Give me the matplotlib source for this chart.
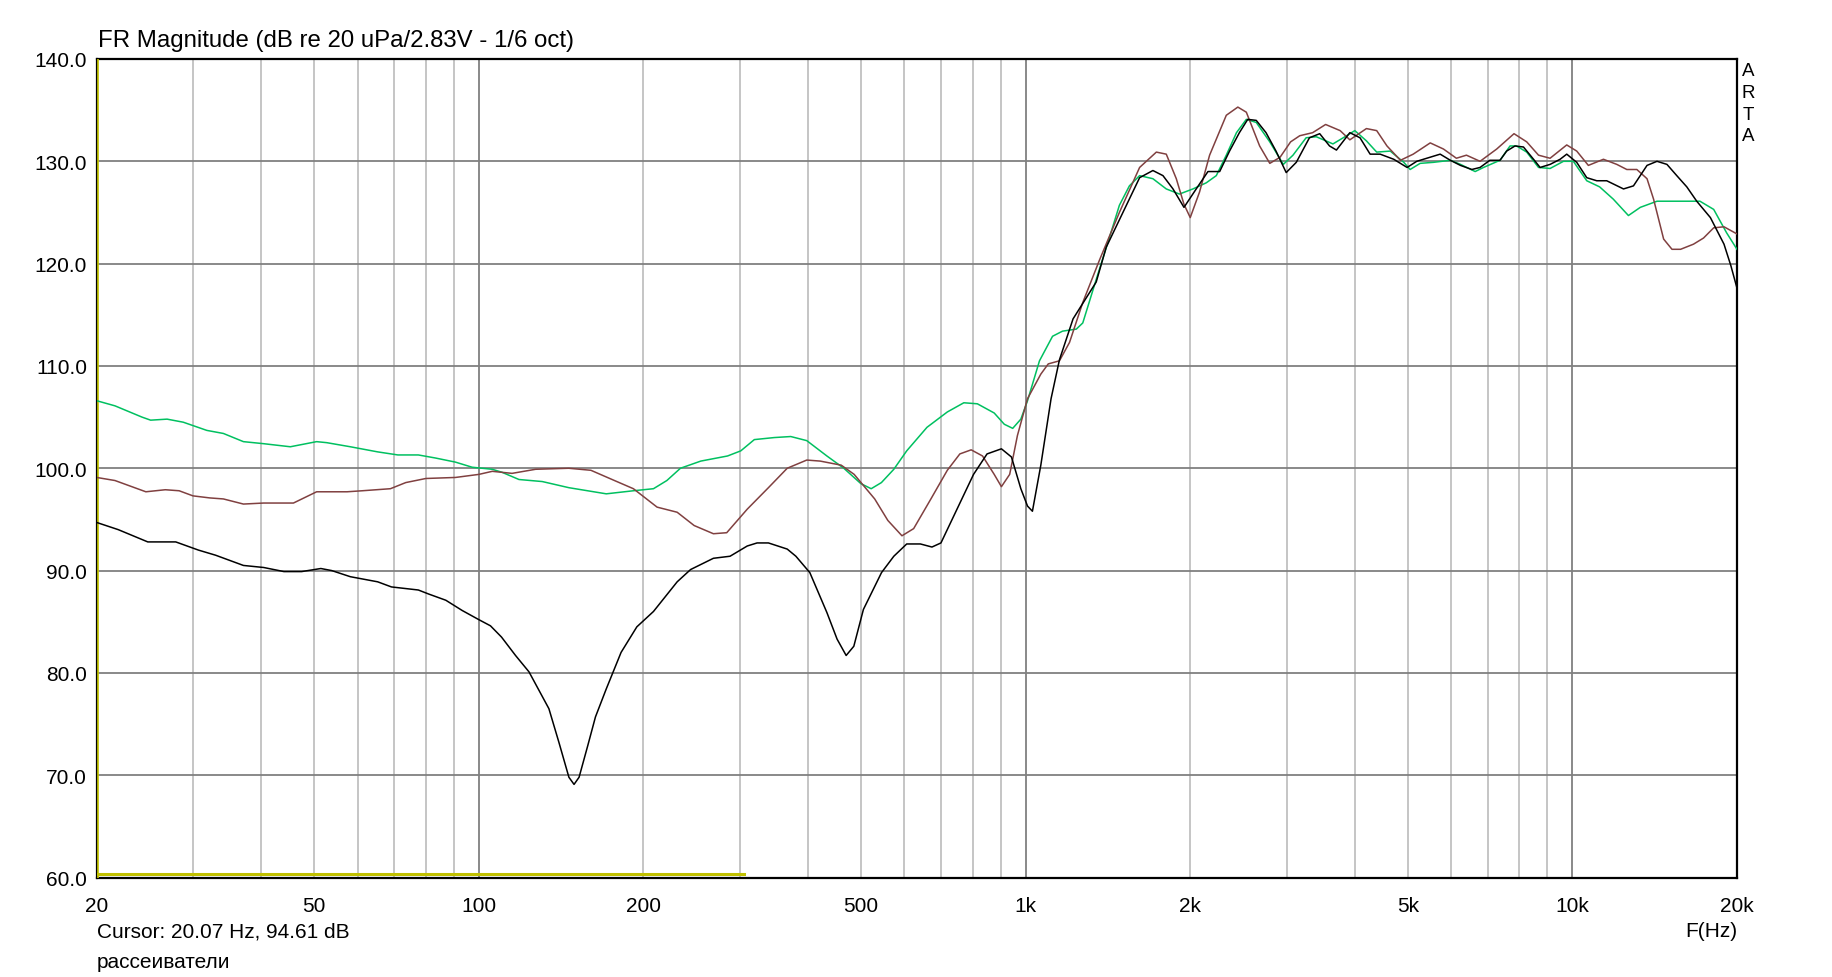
import matplotlib
matplotlib.use('Agg')
import matplotlib.pyplot as plt
from matplotlib.ticker import LogLocator, FuncFormatter

plt.rcParams['font.family'] = ['Liberation Sans', 'DejaVu Sans']

# ---- data (Hz, dB) ----
f_black = [20, 21.9, 24.8, 27.9, 30.7, 33, 37.1, 40.4, 44, 47.4, 51.4, 53.8, 58.2, 65.3, 69.2,
           77.5, 81, 87, 93.2, 100, 105, 110, 116.7, 123.5, 128.8, 134.3, 140.1, 146.1, 149.3,
           152.5, 158.2, 163.4, 170.9, 182, 194.5, 208.6, 230.5, 243.9, 268.5, 288, 309.6,
           322.7, 338.5, 366.4, 380, 403, 433, 452, 469.6, 485, 505, 545, 574, 606, 642, 674,
           700, 749, 803, 850, 903, 942, 980, 1008, 1029, 1066, 1113, 1153, 1221, 1346, 1404,
           1506, 1616, 1709, 1783, 1860, 1948, 2051, 2155, 2264, 2360, 2460, 2548, 2641, 2752,
           2870, 2996, 3126, 3304, 3450, 3596, 3702, 3917, 4088, 4266, 4450, 4712, 4985, 5192,
           5495, 5730, 5981, 6242, 6547, 6778, 7063, 7372, 7581, 7852, 8137, 8490, 8728, 9103,
           9496, 9764, 10184, 10623, 11079, 11555, 12401, 12932, 13692, 14280, 14890, 15520,
           16190, 16880, 17880, 18935, 19490, 20000]
db_black = [94.7, 94.0, 92.8, 92.8, 92.0, 91.5, 90.5, 90.3, 89.9, 89.9, 90.2, 90.0, 89.4, 88.9, 88.4,
            88.1, 87.7, 87.1, 86.1, 85.2, 84.6, 83.5, 81.7, 80.1, 78.3, 76.5, 73.2, 69.8, 69.1,
            69.8, 72.9, 75.7, 78.4, 82.0, 84.5, 86.0, 88.9, 90.1, 91.2, 91.4, 92.4,
            92.7, 92.7, 92.1, 91.4, 89.8, 85.9, 83.3, 81.7, 82.6, 86.2, 89.8, 91.4, 92.6, 92.6, 92.3,
            92.7, 96.0, 99.4, 101.4, 101.9, 101.1, 98.0, 96.3, 95.8, 100.3, 106.8, 110.6, 114.6, 118.2, 121.6,
            125.0, 128.4, 129.1, 128.6, 127.3, 125.5, 127.3, 129.0, 129.0, 131.0, 132.8, 134.1, 134.0, 132.8,
            131.0, 128.9, 129.9, 132.3, 132.7, 131.5, 131.1, 132.8, 132.3, 130.7, 130.7, 130.2, 129.4, 130.0,
            130.4, 130.7, 130.1, 129.6, 129.2, 129.4, 130.1, 130.1, 131.0, 131.5, 131.4, 130.2, 129.4, 129.7,
            130.2, 130.7, 129.9, 128.4, 128.1, 128.1, 127.3, 127.6, 129.6, 130.0, 129.7, 128.6,
            127.5, 126.1, 124.5, 121.9, 119.8, 117.6]

f_brown = [20, 21.6, 24.6, 26.7, 28.3, 30, 32.2, 34.1, 37.1, 40.4, 45.8, 50.5, 57.4, 61.2, 68.9,
           73.5, 80, 90.6, 100, 105.8, 115, 127, 146, 160.3, 177, 191.7, 211.8, 230.5, 247.6,
           268.5, 284, 309.6, 338.5, 366.4, 397.8, 421, 460, 485.7, 529.6, 559.7, 594, 624, 671,
           719, 758, 795, 834, 876, 903, 935, 966, 1008, 1066, 1100, 1153, 1203, 1272, 1366,
           1484, 1616, 1734, 1808, 1886, 1948, 2000, 2080, 2170, 2328, 2444, 2533, 2679, 2796,
           2920, 3052, 3172, 3349, 3537, 3760, 3917, 4200, 4386, 4580, 4847, 5115, 5495, 5810,
           6135, 6400, 6778, 7270, 7820, 8250, 8670, 9103, 9764, 10184, 10695, 11396, 12055,
           12575, 13117, 13692, 14075, 14684, 15210, 15770, 16650, 17370, 18130, 18935, 20000]
db_brown = [99.1, 98.8, 97.7, 97.9, 97.8, 97.3, 97.1, 97.0, 96.5, 96.6, 96.6, 97.7, 97.7, 97.8, 98.0,
            98.6, 99.0, 99.1, 99.4, 99.7, 99.5, 99.9, 100.0, 99.8, 98.8, 98.0, 96.2, 95.7, 94.4,
            93.6, 93.7, 96.0, 98.1, 100.0, 100.8, 100.7, 100.3, 99.4, 97.0, 94.9, 93.4, 94.1, 97.0,
            99.8, 101.4, 101.8, 101.2, 99.4, 98.2, 99.4, 103.2, 106.8, 109.2, 110.2, 110.5, 112.3, 116.2, 120.4,
            125.0, 129.4, 130.9, 130.7, 128.3, 125.8, 124.5, 127.0, 130.6, 134.5, 135.3, 134.8, 131.5, 129.8,
            130.4, 131.9, 132.5, 132.8, 133.6, 133.0, 132.1, 133.2, 133.0, 131.5, 130.1, 130.7, 131.8, 131.2,
            130.3, 130.6, 130.0, 131.2, 132.7, 131.9, 130.6, 130.3, 131.6, 131.0, 129.6, 130.2, 129.7,
            129.2, 129.2, 128.3, 126.3, 122.4, 121.4, 121.4, 121.9, 122.5, 123.5, 123.6, 122.9]

f_green = [20, 21.6, 24.2, 25.1, 26.9, 28.8, 31.8, 34.1, 37.1, 40.4, 45.2, 50.5, 52.7, 58.2, 65.3,
           71.1, 77.5, 83.3, 90.6, 97.2, 105.8, 110.3, 118.4, 130.6, 146.1, 171, 191.7, 208.6,
           220.7, 233.7, 254.6, 285, 301.3, 319, 347, 371.9, 397.8, 433, 465, 499.5, 521.8, 544.8,
           574, 606, 660, 719, 770.8, 816, 876, 914, 947, 980, 1008, 1060, 1120, 1168, 1238, 1272,
           1347, 1426, 1484, 1548, 1616, 1709, 1808, 1911, 2023, 2140, 2232, 2328, 2430, 2533,
           2641, 2796, 2960, 3083, 3258, 3401, 3648, 3864, 4000, 4200, 4386, 4644, 4916, 5049,
           5267, 5570, 5981, 6242, 6640, 6877, 7372, 7690, 7905, 8250, 8670, 9103, 9630, 10040,
           10623, 11216, 11880, 12660, 13310, 14280, 15960, 17110, 18130, 19150, 20000]
db_green = [106.6, 106.1, 105.0, 104.7, 104.8, 104.5, 103.7, 103.4, 102.6, 102.4, 102.1, 102.6, 102.5, 102.1, 101.6,
            101.3, 101.3, 101.0, 100.6, 100.1, 99.9, 99.6, 98.9, 98.7, 98.1, 97.5, 97.8, 98.0,
            98.8, 100.0, 100.7, 101.2, 101.7, 102.8, 103.0, 103.1, 102.7, 101.2, 100.0, 98.5, 98.0, 98.6,
            99.9, 101.7, 104.0, 105.5, 106.4, 106.3, 105.4, 104.3, 103.9, 104.8, 106.6, 110.5, 112.9, 113.4, 113.6, 114.2,
            118.5, 122.7, 125.7, 127.6, 128.6, 128.3, 127.3, 126.8, 127.3, 127.9, 128.6, 130.6, 132.8, 134.1,
            133.8, 131.9, 129.7, 130.6, 132.3, 132.4, 131.7, 132.5, 133.0, 132.0, 130.9, 131.0, 129.9, 129.2,
            129.8, 129.9, 130.1, 129.7, 129.0, 129.4, 130.1, 131.5, 131.5, 130.9, 129.4, 129.3, 130.0, 130.0,
            128.1, 127.5, 126.3, 124.7, 125.5, 126.1, 126.1, 126.1, 125.3, 123.0, 121.4]

f_yellow = [20, 305]
db_yellow = [60.3, 60.3]
cursor_f = 20.07

xtick_labels = {20: '20', 50: '50', 100: '100', 200: '200', 500: '500', 1000: '1k',
                2000: '2k', 5000: '5k', 10000: '10k', 20000: '20k'}

W, H = 1833, 978
fig = plt.figure(figsize=(W / 100, H / 100), dpi=100)
ax = fig.add_axes([96.7 / W, 1 - 878.5 / H, (1737 - 96.7) / W, (878.5 - 60) / H])

ax.set_xscale('log')
ax.set_xlim(20, 20000)
ax.set_ylim(60, 140)

# grid: decades darker, other lines light
ax.xaxis.set_major_locator(LogLocator(base=10, subs=(1.0,)))
ax.xaxis.set_minor_locator(LogLocator(base=10, subs=(2, 3, 4, 5, 6, 7, 8, 9), numticks=30))
fmt = FuncFormatter(lambda v, p: xtick_labels.get(int(round(v)), ''))
ax.xaxis.set_major_formatter(fmt)
ax.xaxis.set_minor_formatter(fmt)
ax.set_yticks(range(60, 141, 10))
ax.set_yticklabels([f'{v:.1f}' for v in range(60, 141, 10)])
ax.grid(True, which='major', axis='both', color='#808080', linewidth=1.3)
ax.grid(True, which='minor', axis='x', color='#c0c0c0', linewidth=1.3)
ax.set_axisbelow(True)
ax.tick_params(which='both', length=0, labelsize=15, colors='black')
ax.tick_params(axis='x', which='both', pad=13)
ax.tick_params(axis='y', pad=7)

for s in ax.spines.values():
    s.set_linewidth(1.6)
    s.set_color('black')

ax.axvline(cursor_f, color='#c8c800', linewidth=1.2, zorder=3)
ax.plot(f_yellow, db_yellow, color='#c0c000', linewidth=2.2, zorder=3)
ax.plot(f_green, db_green, color='#00c060', linewidth=1.1, zorder=4)
ax.plot(f_brown, db_brown, color='#804040', linewidth=1.1, zorder=5)
ax.plot(f_black, db_black, color='black', linewidth=1.1, zorder=6)

fig.text(98 / W, 1 - 41 / H, 'FR Magnitude (dB re 20 uPa/2.83V - 1/6 oct)', fontsize=17.3,
         ha='left', va='center')
fig.text(97 / W, 1 - 932 / H, 'Cursor: 20.07 Hz, 94.61 dB', fontsize=15, ha='left', va='center')
fig.text(97 / W, 1 - 963 / H, 'рассеиватели', fontsize=15, ha='left', va='center')
fig.text(1737 / W, 1 - 932 / H, 'F(Hz)', fontsize=15, ha='right', va='center')
for i, ch in enumerate('ARTA'):
    fig.text(1748 / W, 1 - (72 + 21.5 * i) / H, ch, fontsize=13.5, ha='center', va='center')

plt.savefig('out.png', dpi=100)
plt.close()
